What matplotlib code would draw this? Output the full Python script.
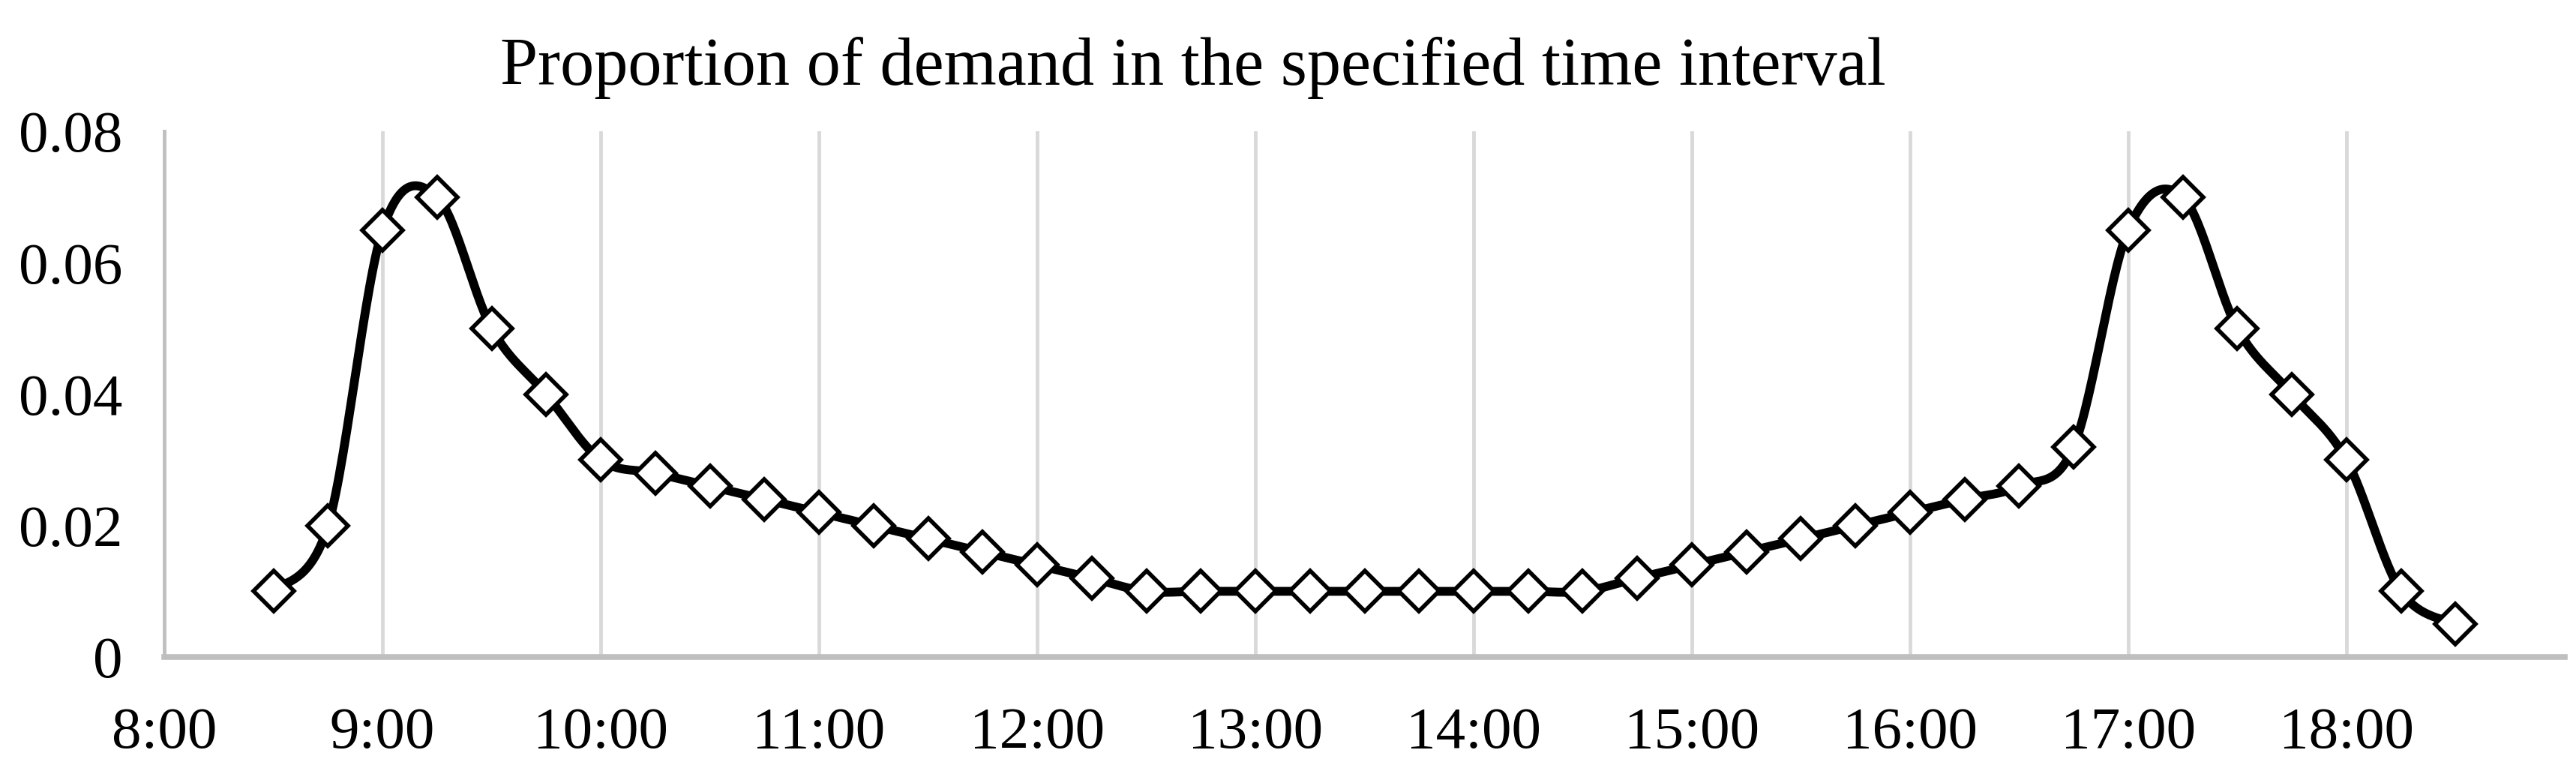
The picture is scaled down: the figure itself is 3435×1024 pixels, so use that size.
import numpy as np
from matplotlib import pyplot as plt

# czasy co 15 minut i udzial popytu
czasy = ["8:30", "8:45", "9:00", "9:15", "9:30", "9:45", "10:00", "10:15", "10:30", "10:45",
         "11:00", "11:15", "11:30", "11:45", "12:00", "12:15", "12:30", "12:45", "13:00", "13:15",
         "13:30", "13:45", "14:00", "14:15", "14:30", "14:45", "15:00", "15:15", "15:30", "15:45",
         "16:00", "16:15", "16:30", "16:45", "17:00", "17:15", "17:30", "17:45", "18:00", "18:15",
         "18:30"]
udzial = [0.01, 0.02, 0.065, 0.07, 0.05, 0.04, 0.03, 0.028, 0.026, 0.024,
          0.022, 0.02, 0.018, 0.016, 0.014, 0.012, 0.01, 0.01, 0.01, 0.01,
          0.01, 0.01, 0.01, 0.01, 0.01, 0.012, 0.014, 0.016, 0.018, 0.02,
          0.022, 0.024, 0.026, 0.032, 0.065, 0.07, 0.05, 0.04, 0.03, 0.01,
          0.005]
godziny = ["8:00", "9:00", "10:00", "11:00", "12:00", "13:00", "14:00", "15:00", "16:00", "17:00", "18:00"]
y_ticks = [0, 0.02, 0.04, 0.06, 0.08]
y_labels = ["0", "0.02", "0.04", "0.06", "0.08"]


def na_godz(t):
    h, m = t.split(":")
    return int(h) + int(m) / 60


def wygladz(x, y, n=30):
    # wygladzanie jak w Excelu (krzywe Beziera, Catmull-Rom)
    x = np.asarray(x, float)
    y = np.asarray(y, float)
    px = np.concatenate([[x[0]], x, [x[-1]]])
    py = np.concatenate([[y[0]], y, [y[-1]]])
    xs, ys = [], []
    t = np.linspace(0, 1, n)
    for i in range(1, len(px) - 2):
        p0 = np.array([px[i], py[i]])
        p3 = np.array([px[i + 1], py[i + 1]])
        p1 = p0 + (np.array([px[i + 1], py[i + 1]]) - np.array([px[i - 1], py[i - 1]])) / 6
        p2 = p3 - (np.array([px[i + 2], py[i + 2]]) - np.array([px[i], py[i]])) / 6
        b = ((1 - t) ** 3)[:, None] * p0 + (3 * (1 - t) ** 2 * t)[:, None] * p1 \
            + (3 * (1 - t) * t ** 2)[:, None] * p2 + (t ** 3)[:, None] * p3
        xs.extend(b[:, 0])
        ys.extend(b[:, 1])
    return np.array(xs), np.array(ys)


plt.rcParams['font.family'] = ['Liberation Serif', 'DejaVu Serif']

x = np.array([na_godz(t) for t in czasy])
xg = [na_godz(g) for g in godziny]

fig = plt.figure(figsize=(34.35, 10.24), dpi=100)
ax = fig.add_axes([0.0638, 0.1445, 0.9318, 0.6845])

for g in xg[1:]:
    ax.axvline(g, color='#d9d9d9', linewidth=3.5, zorder=0)

xs, ys = wygladz(x, udzial)
ax.plot(xs, ys, color='black', linewidth=8.5, zorder=2, solid_capstyle='round')
ax.plot(x, udzial, linestyle='none', marker='D', markersize=28, markerfacecolor='white',
        markeredgecolor='black', markeredgewidth=4, zorder=3)

ax.set_xlim(8, 19)
ax.set_ylim(0, 0.08)
ax.set_xticks(xg)
ax.set_xticklabels(godziny)
ax.set_yticks(y_ticks)
ax.set_yticklabels(y_labels)
ax.tick_params(axis='both', length=0, labelsize=57)
ax.tick_params(axis='x', pad=48)
ax.tick_params(axis='y', pad=40)

for s in ['top', 'right']:
    ax.spines[s].set_visible(False)
ax.spines['bottom'].set_color('#bfbfbf')
ax.spines['bottom'].set_linewidth(5.5)
ax.spines['left'].set_color('#bfbfbf')
ax.spines['left'].set_linewidth(3.5)

fig.text(0.463, 0.912, "Proportion of demand in the specified time interval",
         ha='center', va='center', fontsize=65)

fig.savefig("out.png", dpi=100)
